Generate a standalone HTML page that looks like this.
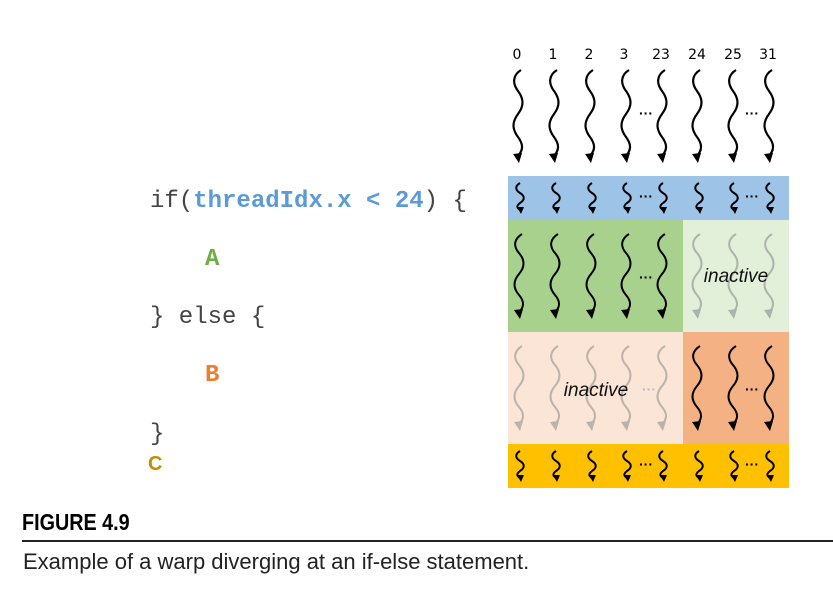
<!DOCTYPE html>
<html><head><meta charset="utf-8"><style>
body{margin:0;background:#fff;width:833px;height:596px;overflow:hidden}
svg{display:block}
</style></head><body>
<svg width="833" height="596" xmlns="http://www.w3.org/2000/svg">
<defs>
<g id="L"><path d="M2,0 c-8,5 -9,13 -3,21 c6,8 6,15 0,23 c-6,8 -6,15 0,23 c6,8 5,14 -1,20" fill="none" stroke-width="2.2"/><path d="M-6,84 l6,9 l3,-10 z" stroke="none"/></g>
<g id="M"><path d="M2,0 c-8,5 -9,12 -3,19 c6,7 6,14 0,21 c-6,7 -6,14 0,21 c6,7 5,13 -1,18" fill="none" stroke-width="2"/><path d="M-6,76 l6,9 l3,-10 z" stroke="none"/></g>
<g id="S"><path d="M0,0 c-5,3 -5,7 0,10 c5,3 5,7 0,10 c-4,3 -3,5 0,7" fill="none" stroke-width="2"/><path d="M-3,24 l4,7 l3,-7 z" stroke="none"/></g>
</defs>
<rect x="508" y="176" width="281" height="44" fill="#9dc3e6"/>
<rect x="508" y="220" width="175" height="112" fill="#a9d18e"/>
<rect x="683" y="220" width="106" height="112" fill="#e2f0d9"/>
<rect x="508" y="332" width="175" height="112" fill="#fbe5d6"/>
<rect x="683" y="332" width="106" height="112" fill="#f4b183"/>
<rect x="508" y="444" width="281" height="44" fill="#ffc000"/>
<g font-family="DejaVu Sans, sans-serif" font-size="14" fill="#000" text-anchor="middle">
<text x="517" y="59">0</text><text x="553" y="59">1</text><text x="589" y="59">2</text><text x="624" y="59">3</text><text x="661" y="59">23</text><text x="697" y="59">24</text><text x="733" y="59">25</text><text x="768" y="59">31</text>
</g>
<g fill="#000" stroke="#000">
<use href="#L" x="519" y="70"/><use href="#L" x="555" y="70"/><use href="#L" x="591" y="70"/><use href="#L" x="627" y="70"/><use href="#L" x="663" y="70"/><use href="#L" x="698" y="70"/><use href="#L" x="734" y="70"/><use href="#L" x="770" y="70"/>
<use href="#S" x="520" y="183"/><use href="#S" x="556" y="183"/><use href="#S" x="592" y="183"/><use href="#S" x="627" y="183"/><use href="#S" x="663" y="183"/><use href="#S" x="699" y="183"/><use href="#S" x="734" y="183"/><use href="#S" x="770" y="183"/>
<use href="#S" x="520" y="451"/><use href="#S" x="556" y="451"/><use href="#S" x="592" y="451"/><use href="#S" x="627" y="451"/><use href="#S" x="663" y="451"/><use href="#S" x="699" y="451"/><use href="#S" x="734" y="451"/><use href="#S" x="770" y="451"/>
<use href="#M" x="520" y="234"/><use href="#M" x="556" y="234"/><use href="#M" x="592" y="234"/><use href="#M" x="627" y="234"/><use href="#M" x="663" y="234"/>
<use href="#M" x="698" y="346"/><use href="#M" x="734" y="346"/><use href="#M" x="770" y="346"/>
</g>
<g fill="#a8aca6" stroke="#a8aca6" opacity="0.9">
<use href="#M" x="698" y="234"/><use href="#M" x="734" y="234"/><use href="#M" x="770" y="234"/>
</g>
<g fill="#bbb2aa" stroke="#bbb2aa">
<use href="#M" x="520" y="346"/><use href="#M" x="556" y="346"/><use href="#M" x="592" y="346"/><use href="#M" x="627" y="346"/><use href="#M" x="663" y="346"/>
</g>
<g font-family="Liberation Sans, sans-serif" font-size="14" font-weight="bold" text-anchor="middle">
<text x="646" y="118">···</text><text x="752" y="118">···</text>
<text x="646" y="201">···</text><text x="752" y="201">···</text>
<text x="646" y="282">···</text><text x="752" y="394">···</text>
<text x="646" y="469">···</text><text x="752" y="469">···</text>
<text x="649" y="394" fill="#bbb">···</text>
</g>
<g font-family="Liberation Sans, sans-serif" font-size="19" font-style="italic" fill="#111" text-anchor="middle">
<text x="736" y="282">inactive</text><text x="596" y="396">inactive</text>
</g>
<g font-family="Liberation Mono, monospace" font-size="24" fill="#444">
<text x="150" y="207">if(<tspan fill="#5b9bd5" font-weight="bold">threadIdx.x &lt; 24</tspan>) {</text>
<text x="150" y="323">} else {</text>
<text x="150" y="440">}</text>
<text x="205" y="265" fill="#70ad47" font-weight="bold">A</text>
<text x="205" y="381" fill="#ed7d31" font-weight="bold">B</text>
</g>
<text x="148" y="470" font-family="Liberation Sans, sans-serif" font-size="20" font-weight="bold" fill="#bf9000">C</text>
<text x="0" y="530" font-family="Liberation Sans, sans-serif" font-size="23" font-weight="bold" fill="#000" transform="translate(22,0) scale(0.86,1)">FIGURE 4.9</text>
<rect x="22" y="540" width="811" height="2" fill="#222"/>
<text x="23" y="569" font-family="Liberation Sans, sans-serif" font-size="22" fill="#222">Example of a warp diverging at an if-else statement.</text>
</svg>
</body></html>
